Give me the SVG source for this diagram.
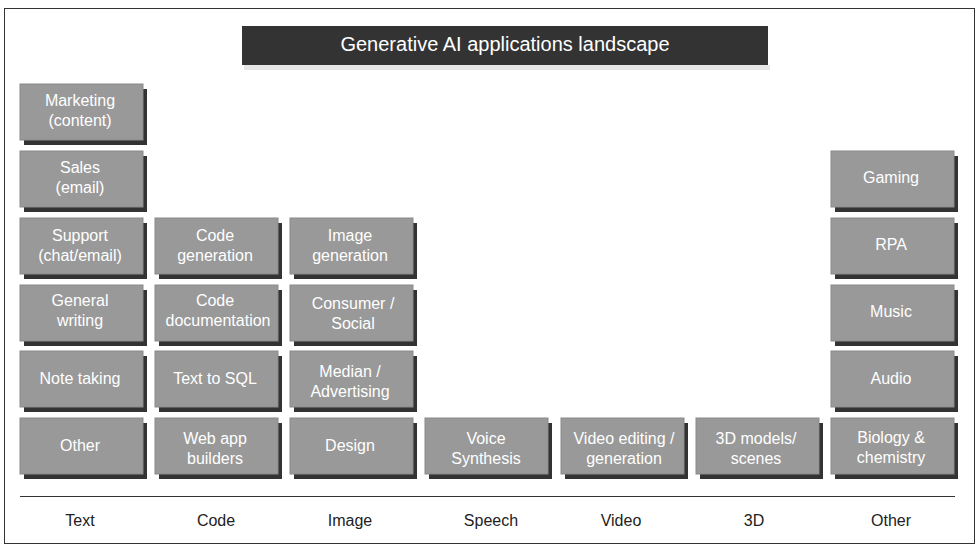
<svg xmlns="http://www.w3.org/2000/svg" width="980" height="551" viewBox="0 0 980 551">
<defs><style>
.b{fill:#999;stroke:#8a8a8a;stroke-width:1}
.s{fill:#333}
.t{font-family:"Liberation Sans",Arial,sans-serif;font-size:16px;fill:#fff;text-anchor:middle}
.c{font-family:"Liberation Sans",Arial,sans-serif;font-size:16px;fill:#222;text-anchor:middle}
</style>
<g id="box"><rect class="s" x="4" y="5" width="123" height="56"/><rect class="b" x="0" y="0" width="123" height="56"/></g>
</defs>
<rect x="0" y="0" width="980" height="551" fill="#fff"/>
<rect x="4.5" y="8.5" width="970" height="535" fill="none" stroke="#333" stroke-width="1"/>
<g id="title">
<rect x="244" y="65" width="526" height="5" fill="#e6e6e6"/>
<rect x="242" y="26" width="526" height="39" fill="#333"/>
<text x="505" y="51" font-family="Liberation Sans,Arial,sans-serif" font-size="20" fill="#fff" text-anchor="middle">Generative AI applications landscape</text>
</g>
<g id="n1"><use href="#box" x="20" y="84"/><text class="t" x="80" y="106">Marketing</text><text class="t" x="80" y="126">(content)</text></g>
<g id="n2"><use href="#box" x="20" y="151"/><text class="t" x="80" y="173">Sales</text><text class="t" x="80" y="193">(email)</text></g>
<g id="n3"><use href="#box" x="20" y="218"/><text class="t" x="80" y="241">Support</text><text class="t" x="80" y="261">(chat/email)</text></g>
<g id="n4"><use href="#box" x="20" y="285"/><text class="t" x="80" y="306">General</text><text class="t" x="80" y="326">writing</text></g>
<g id="n5"><use href="#box" x="20" y="351"/><text class="t" x="80" y="384">Note taking</text></g>
<g id="n6"><use href="#box" x="20" y="418"/><text class="t" x="80" y="451">Other</text></g>
<g id="n7"><use href="#box" x="155" y="218"/><text class="t" x="215" y="241">Code</text><text class="t" x="215" y="261">generation</text></g>
<g id="n8"><use href="#box" x="155" y="285"/><text class="t" x="215" y="306">Code</text><text class="t" x="218" y="326">documentation</text></g>
<g id="n9"><use href="#box" x="155" y="351"/><text class="t" x="215" y="384">Text to SQL</text></g>
<g id="n10"><use href="#box" x="155" y="418"/><text class="t" x="215" y="444">Web app</text><text class="t" x="215" y="464">builders</text></g>
<g id="n11"><use href="#box" x="290" y="218"/><text class="t" x="350" y="241">Image</text><text class="t" x="350" y="261">generation</text></g>
<g id="n12"><use href="#box" x="290" y="285"/><text class="t" x="353" y="309">Consumer /</text><text class="t" x="353" y="329">Social</text></g>
<g id="n13"><use href="#box" x="290" y="351"/><text class="t" x="350" y="377">Median /</text><text class="t" x="350" y="397">Advertising</text></g>
<g id="n14"><use href="#box" x="290" y="418"/><text class="t" x="350" y="451">Design</text></g>
<g id="n15"><use href="#box" x="425" y="418"/><text class="t" x="486" y="444">Voice</text><text class="t" x="486" y="464">Synthesis</text></g>
<g id="n16"><use href="#box" x="561" y="418"/><text class="t" x="624" y="444">Video editing /</text><text class="t" x="624" y="464">generation</text></g>
<g id="n17"><use href="#box" x="696" y="418"/><text class="t" x="756" y="444">3D models/</text><text class="t" x="756" y="464">scenes</text></g>
<g id="n18"><use href="#box" x="831" y="151"/><text class="t" x="891" y="183">Gaming</text></g>
<g id="n19"><use href="#box" x="831" y="218"/><text class="t" x="891" y="250">RPA</text></g>
<g id="n20"><use href="#box" x="831" y="285"/><text class="t" x="891" y="317">Music</text></g>
<g id="n21"><use href="#box" x="831" y="351"/><text class="t" x="891" y="384">Audio</text></g>
<g id="n22"><use href="#box" x="831" y="418"/><text class="t" x="891" y="443">Biology &amp;</text><text class="t" x="891" y="463">chemistry</text></g>
<g id="connectors"><line x1="20" y1="496.5" x2="955" y2="496.5" stroke="#333" stroke-width="1.2"/></g>
<g id="axis">
<text class="c" x="80" y="526">Text</text><text class="c" x="216" y="526">Code</text><text class="c" x="350" y="526">Image</text><text class="c" x="491" y="526">Speech</text><text class="c" x="621" y="526">Video</text><text class="c" x="754" y="526">3D</text><text class="c" x="891" y="526">Other</text>
</g>
</svg>
